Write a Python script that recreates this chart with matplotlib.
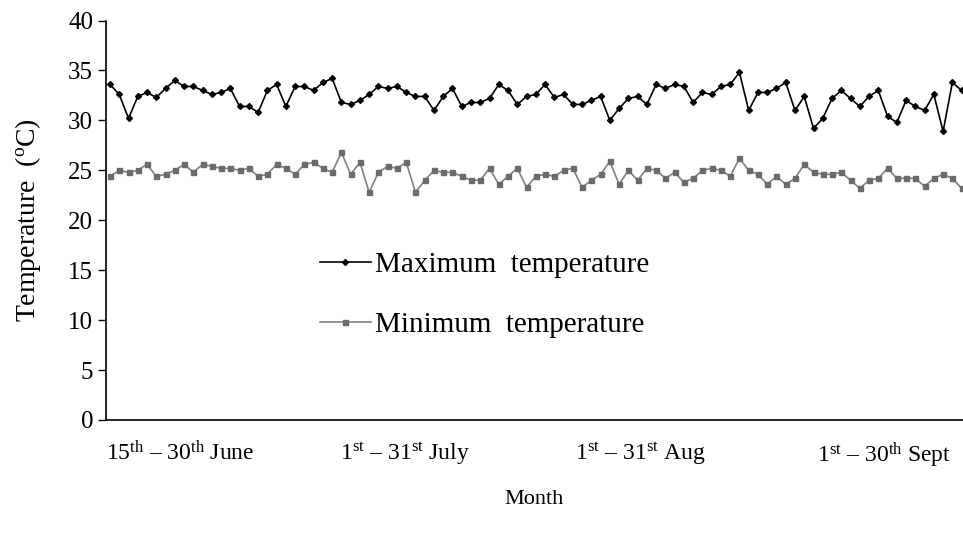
import numpy as np
import matplotlib
matplotlib.use("Agg")
import matplotlib.pyplot as plt

# daily values (deg C)
max_temp = [33.6, 32.6, 30.2, 32.4, 32.8, 32.3, 33.2, 34.0, 33.4, 33.4, 33.0, 32.6, 32.8, 33.2,
            31.4, 31.4, 30.8, 33.0, 33.6, 31.4, 33.4, 33.4, 33.0,
            33.8, 34.2, 31.8, 31.6, 32.0, 32.6, 33.4, 33.2, 33.4, 32.8, 32.4, 32.4, 31.0,
            32.4, 33.2, 31.4, 31.8, 31.8, 32.2, 33.6, 33.0, 31.6, 32.4,
            32.6, 33.6, 32.3, 32.6, 31.6, 31.6, 32.0, 32.4, 30.0, 31.2, 32.2, 32.4, 31.6,
            33.6, 33.2, 33.6, 33.4, 31.8, 32.8, 32.6, 33.4, 33.6, 34.8,
            31.0, 32.8, 32.8, 33.2, 33.8, 31.0, 32.4, 29.2, 30.2, 32.2, 33.0, 32.2,
            31.4, 32.4, 33.0, 30.4, 29.8, 32.0, 31.4, 31.0, 32.6, 28.9, 33.8, 33.0]
min_temp = [24.4, 25.0, 24.8, 25.0, 25.6, 24.4, 24.6, 25.0, 25.6, 24.8, 25.6, 25.4, 25.2, 25.2,
            25.0, 25.2, 24.4, 24.6, 25.6, 25.2, 24.6, 25.6, 25.8,
            25.2, 24.8, 26.8, 24.6, 25.8, 22.8, 24.8, 25.4, 25.2, 25.8, 22.8, 24.0, 25.0,
            24.8, 24.8, 24.4, 24.0, 24.0, 25.2, 23.6, 24.4, 25.2, 23.3,
            24.4, 24.6, 24.4, 25.0, 25.2, 23.3, 24.0, 24.6, 25.9, 23.6, 25.0, 24.0, 25.2,
            25.0, 24.2, 24.8, 23.8, 24.2, 25.0, 25.2, 25.0, 24.4, 26.2,
            25.0, 24.6, 23.6, 24.4, 23.6, 24.2, 25.6, 24.8, 24.6, 24.6, 24.8, 24.0,
            23.2, 24.0, 24.2, 25.2, 24.2, 24.2, 24.2, 23.4, 24.2, 24.6, 24.2, 23.2]
period_labels = [r"15$^{\mathrm{th}}$ – 30$^{\mathrm{th}}$ June",
                 r"1$^{\mathrm{st}}$ – 31$^{\mathrm{st}}$ July",
                 r"1$^{\mathrm{st}}$ – 31$^{\mathrm{st}}$ Aug",
                 r"1$^{\mathrm{st}}$ – 30$^{\mathrm{th}}$ Sept"]
period_pos = [7.6, 31.9, 57.3, 83.6]

plt.rcParams["font.family"] = "Liberation Serif"
plt.rcParams["mathtext.fontset"] = "custom"
plt.rcParams["mathtext.rm"] = "Liberation Serif"
plt.rcParams["mathtext.it"] = "Liberation Serif:italic"

fig = plt.figure(figsize=(9.63, 5.34), dpi=100)
ax = fig.add_axes([0.1098, 0.2135, 0.8902, 0.748])

x = np.arange(len(max_temp))
ax.plot(x, max_temp, color="black", lw=1.2, marker="D", ms=3,
        label="Maximum  temperature")
ax.plot(x, min_temp, color="#808080", lw=1.2, marker="s", ms=3.6,
        mfc="#6b6b6b", mec="#6b6b6b", label="Minimum  temperature")

ax.set_xlim(-0.46, 92.15)
ax.set_ylim(0, 40)
ax.set_yticks(range(0, 41, 5))
ax.tick_params(axis="y", direction="out", length=6, width=1, labelsize=18, pad=3)
ax.set_xticks(period_pos)
ax.set_xticklabels(period_labels, fontsize=17)
ax.tick_params(axis="x", length=0, pad=15)

for s in ["top", "right"]:
    ax.spines[s].set_visible(False)
ax.spines["left"].set_linewidth(1.2)
ax.spines["bottom"].set_linewidth(1.2)

ax.set_ylabel(r"Temperature  ($^{\mathrm{o}}$C)", fontsize=20, labelpad=18)
ax.set_xlabel("Month", fontsize=16, labelpad=14)

leg = ax.legend(loc="upper left", bbox_to_anchor=(0.2325, 0.458), frameon=False,
                fontsize=21, handlelength=1.75, handletextpad=0.15, labelspacing=1.15,
                borderpad=0, markerscale=1.0)

fig.savefig("out.png", dpi=100)
